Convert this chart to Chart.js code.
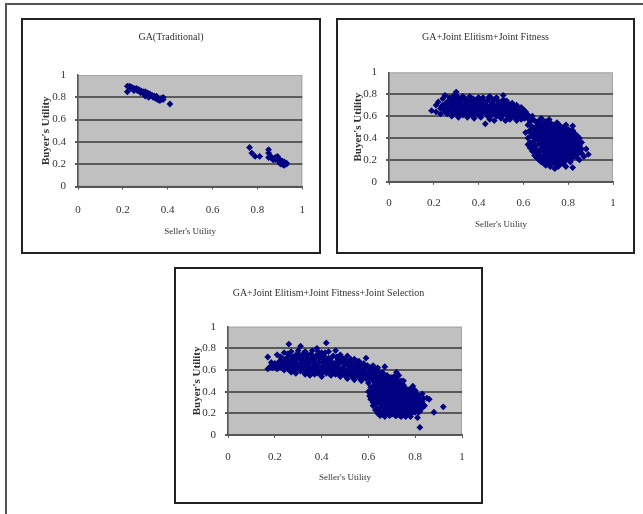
<!DOCTYPE html>
<html>
<head>
<meta charset="utf-8">
<script src="https://cdn.jsdelivr.net/npm/chart.js@4.4.0/dist/chart.umd.min.js"></script>
<style>
  html, body { margin: 0; padding: 0; background: #fff; width: 643px; height: 514px; overflow: hidden; }
  .frame { position: absolute; left: 5px; top: 3px; width: 700px; height: 600px; border-left: 2px solid #555; border-top: 2px solid #555; }
  .box { position: absolute; border: 2px solid #222; box-sizing: border-box; }
  canvas { position: absolute; }
</style>
</head>
<body>
<div class="frame"></div>
<div class="box" style="left:21px; top:18px; width:300px; height:236px;"></div>
<div class="box" style="left:336px; top:18px; width:299px; height:236px;"></div>
<div class="box" style="left:174px; top:267px; width:309px; height:237px;"></div>
<canvas id="chartTraditional" width="296" height="232" style="left:23px; top:20px;"></canvas>
<canvas id="chartFitness" width="295" height="232" style="left:338px; top:20px;"></canvas>
<canvas id="chartSelection" width="305" height="233" style="left:176px; top:269px;"></canvas>
<script>
// axis ticks shared by all three plots
const tickValues = [0, 0.2, 0.4, 0.6, 0.8, 1];
const tickLabels = ['0', '0.2', '0.4', '0.6', '0.8', '1'];

const chartTitles = [
    'GA(Traditional)',
    'GA+Joint Elitism+Joint Fitness',
    'GA+Joint Elitism+Joint Fitness+Joint Selection'
];
const xAxisTitle = "Seller's Utility";
const yAxisTitle = "Buyer's Utility";

// [seller utility, buyer utility] pairs
const traditionalPoints = [
    [0.22,0.85],[0.22,0.90],[0.23,0.90],[0.24,0.89],[0.25,0.88],[0.25,0.86],[0.26,0.88],[0.27,0.87],
    [0.27,0.86],[0.28,0.86],[0.28,0.84],[0.29,0.85],[0.30,0.85],[0.30,0.81],[0.31,0.84],[0.31,0.82],
    [0.32,0.83],[0.32,0.81],[0.33,0.82],[0.34,0.81],[0.35,0.80],[0.35,0.81],[0.36,0.79],[0.36,0.78],
    [0.37,0.79],[0.37,0.78],[0.38,0.80],[0.38,0.78],[0.41,0.74],
    [0.235,0.88],[0.245,0.87],[0.265,0.86],[0.295,0.83],[0.315,0.80],[0.335,0.80],[0.345,0.79],
    [0.355,0.78],[0.365,0.77],[0.375,0.79],
    [0.765,0.35],[0.775,0.30],[0.79,0.27],[0.81,0.27],[0.85,0.33],[0.85,0.30],[0.85,0.26],[0.86,0.27],
    [0.87,0.25],[0.88,0.26],[0.88,0.24],[0.89,0.27],[0.89,0.25],[0.90,0.24],[0.90,0.22],[0.91,0.23],
    [0.91,0.21],[0.92,0.20],[0.92,0.22],[0.93,0.20],[0.93,0.21],[0.92,0.19],[0.90,0.21],[0.87,0.24],
    [0.895,0.23],[0.905,0.20],[0.915,0.195],[0.925,0.21],[0.88,0.255],[0.86,0.26]
];

const fitnessUpper = [
    [0.19,0.65],[0.21,0.64],[0.21,0.70],[0.22,0.73],[0.23,0.62],[0.23,0.67],[0.24,0.76],[0.24,0.70],
    [0.25,0.64],[0.25,0.79],[0.26,0.68],[0.26,0.73],[0.26,0.62],[0.27,0.77],[0.27,0.66],[0.28,0.71],
    [0.28,0.60],[0.28,0.75],[0.29,0.64],[0.29,0.68],[0.29,0.79],[0.30,0.62],[0.30,0.72],[0.30,0.82],
    [0.31,0.66],[0.31,0.76],[0.31,0.59],[0.32,0.70],[0.32,0.63],[0.32,0.74],[0.33,0.67],[0.33,0.78],
    [0.33,0.61],[0.34,0.72],[0.34,0.65],[0.34,0.76],[0.35,0.59],[0.35,0.69],[0.35,0.63],[0.36,0.74],
    [0.36,0.67],[0.36,0.78],[0.37,0.61],[0.37,0.71],[0.37,0.65],[0.38,0.75],[0.38,0.69],[0.38,0.58],
    [0.39,0.63],[0.39,0.73],[0.39,0.67],[0.40,0.77],[0.40,0.61],[0.40,0.70],[0.41,0.65],[0.41,0.74],
    [0.41,0.59],[0.42,0.68],[0.42,0.63],[0.42,0.77],[0.43,0.53],[0.43,0.71],[0.43,0.66],[0.44,0.60],
    [0.44,0.74],[0.44,0.69],[0.45,0.64],[0.45,0.57],[0.45,0.78],[0.46,0.67],[0.46,0.72],[0.46,0.61],
    [0.47,0.75],[0.47,0.65],[0.47,0.56],[0.48,0.70],[0.48,0.60],[0.48,0.77],[0.49,0.63],[0.49,0.68],
    [0.49,0.73],[0.50,0.58],[0.50,0.66],[0.50,0.71],[0.51,0.79],[0.51,0.61],[0.51,0.75],[0.52,0.64],
    [0.52,0.69],[0.52,0.56],[0.53,0.72],[0.53,0.60],[0.53,0.67],[0.54,0.63],[0.54,0.70],[0.54,0.57],
    [0.55,0.66],[0.55,0.61],[0.55,0.72],[0.56,0.59],[0.56,0.68],[0.56,0.64],[0.57,0.62],[0.57,0.70],
    [0.57,0.56],[0.58,0.66],[0.58,0.60],[0.59,0.64],[0.59,0.68],[0.59,0.57],[0.60,0.62],[0.60,0.66],
    [0.61,0.59],[0.61,0.64],[0.62,0.61],[0.63,0.58],[0.64,0.60]
];

const fitnessUpperFill = [
    [0.235,0.69],[0.245,0.66],[0.255,0.72],[0.265,0.65],[0.275,0.70],[0.285,0.73],[0.285,0.63],[0.295,0.66],
    [0.295,0.75],[0.305,0.69],[0.305,0.78],[0.315,0.63],[0.315,0.72],[0.325,0.67],[0.325,0.77],[0.335,0.64],
    [0.335,0.70],[0.345,0.62],[0.345,0.74],[0.355,0.66],[0.355,0.72],[0.365,0.63],[0.365,0.70],[0.375,0.68],
    [0.375,0.76],[0.385,0.62],[0.385,0.72],[0.395,0.65],[0.395,0.76],[0.405,0.68],[0.405,0.73],[0.415,0.62],
    [0.415,0.71],[0.425,0.65],[0.425,0.74],[0.435,0.62],[0.435,0.69],[0.445,0.66],[0.445,0.77],[0.455,0.62],
    [0.455,0.70],[0.465,0.64],[0.465,0.75],[0.475,0.62],[0.475,0.69],[0.485,0.66],[0.485,0.74],[0.495,0.60],
    [0.495,0.70],[0.505,0.64],[0.505,0.68],[0.515,0.66],[0.515,0.72],[0.525,0.61],[0.525,0.74],[0.535,0.58],
    [0.535,0.65],[0.545,0.60],[0.545,0.67],[0.555,0.63],[0.555,0.69],[0.565,0.61],[0.565,0.66],[0.575,0.59],
    [0.575,0.65],[0.585,0.63],[0.595,0.60],[0.605,0.58],[0.615,0.62],[0.625,0.57]
];

const fitnessLower = [
    [0.61,0.45],[0.62,0.40],[0.62,0.52],[0.63,0.36],[0.63,0.47],[0.63,0.55],[0.64,0.42],[0.64,0.50],
    [0.64,0.33],[0.65,0.45],[0.65,0.38],[0.65,0.56],[0.66,0.29],[0.66,0.41],[0.66,0.51],[0.66,0.47],
    [0.67,0.35],[0.67,0.44],[0.67,0.54],[0.67,0.25],[0.68,0.39],[0.68,0.31],[0.68,0.48],[0.68,0.58],
    [0.69,0.21],[0.69,0.36],[0.69,0.43],[0.69,0.52],[0.69,0.28],[0.70,0.33],[0.70,0.40],[0.70,0.47],
    [0.70,0.55],[0.70,0.24],[0.71,0.19],[0.71,0.30],[0.71,0.37],[0.71,0.44],[0.71,0.50],[0.72,0.27],
    [0.72,0.34],[0.72,0.41],[0.72,0.48],[0.72,0.22],[0.72,0.54],[0.73,0.17],[0.73,0.31],[0.73,0.38],
    [0.73,0.45],[0.73,0.25],[0.74,0.12],[0.74,0.21],[0.74,0.28],[0.74,0.35],[0.74,0.42],[0.74,0.50],
    [0.75,0.18],[0.75,0.32],[0.75,0.39],[0.75,0.46],[0.75,0.25],[0.76,0.15],[0.76,0.22],[0.76,0.29],
    [0.76,0.36],[0.76,0.43],[0.77,0.19],[0.77,0.26],[0.77,0.33],[0.77,0.40],[0.77,0.48],[0.78,0.23],
    [0.78,0.30],[0.78,0.37],[0.78,0.44],[0.78,0.16],[0.79,0.14],[0.79,0.27],[0.79,0.34],[0.79,0.41],
    [0.79,0.20],[0.80,0.24],[0.80,0.31],[0.80,0.38],[0.80,0.45],[0.81,0.18],[0.81,0.28],[0.81,0.35],
    [0.81,0.42],[0.82,0.13],[0.82,0.22],[0.82,0.32],[0.82,0.38],[0.82,0.51],[0.83,0.26],[0.83,0.35],
    [0.83,0.40],[0.84,0.30],[0.84,0.22],[0.84,0.38],[0.85,0.33],[0.85,0.20],[0.86,0.26],[0.88,0.30],
    [0.89,0.25],[0.87,0.23]
];

const fitnessLowerFill = [
    [0.625,0.46],[0.635,0.42],[0.635,0.51],[0.645,0.37],[0.645,0.46],[0.655,0.33],[0.655,0.42],[0.655,0.50],
    [0.665,0.38],[0.665,0.44],[0.665,0.54],[0.675,0.28],[0.675,0.41],[0.675,0.49],[0.685,0.35],[0.685,0.44],
    [0.685,0.52],[0.695,0.25],[0.695,0.32],[0.695,0.40],[0.695,0.48],[0.705,0.21],[0.705,0.28],[0.705,0.36],
    [0.705,0.44],[0.705,0.51],[0.715,0.25],[0.715,0.33],[0.715,0.40],[0.715,0.47],[0.715,0.53],[0.725,0.19],
    [0.725,0.29],[0.725,0.37],[0.725,0.44],[0.725,0.51],[0.735,0.22],[0.735,0.28],[0.735,0.35],[0.735,0.42],
    [0.735,0.48],[0.745,0.16],[0.745,0.24],[0.745,0.31],[0.745,0.38],[0.745,0.46],[0.755,0.21],[0.755,0.28],
    [0.755,0.35],[0.755,0.43],[0.755,0.49],[0.765,0.18],[0.765,0.26],[0.765,0.33],[0.765,0.40],[0.765,0.46],
    [0.775,0.22],[0.775,0.30],[0.775,0.37],[0.775,0.43],[0.785,0.19],[0.785,0.26],[0.785,0.33],[0.785,0.40],
    [0.785,0.47],[0.795,0.23],[0.795,0.30],[0.795,0.37],[0.795,0.43],[0.805,0.20],[0.805,0.27],[0.805,0.34],
    [0.805,0.40],[0.815,0.25],[0.815,0.31],[0.815,0.38],[0.825,0.28],[0.825,0.42],[0.835,0.30],[0.845,0.34],
    [0.635,0.57],[0.655,0.55],[0.675,0.57],[0.695,0.55],[0.715,0.57],[0.735,0.52],[0.685,0.23],[0.705,0.17],
    [0.755,0.14],[0.715,0.19],
    [0.64,0.28],[0.65,0.24],[0.66,0.22],[0.67,0.20],[0.68,0.18],[0.645,0.30],[0.655,0.27],[0.665,0.25],
    [0.675,0.22],[0.685,0.20],[0.69,0.17],[0.63,0.31],[0.62,0.34],[0.70,0.15],[0.72,0.14],[0.78,0.50],
    [0.80,0.48],[0.81,0.46],[0.83,0.44],[0.84,0.42],[0.79,0.52],[0.76,0.52],[0.75,0.54],[0.82,0.47],
    [0.85,0.40],[0.86,0.36],[0.86,0.30],[0.85,0.28],[0.84,0.25]
];

const selectionUpper = [
    [0.17,0.61],[0.17,0.72],[0.18,0.63],[0.19,0.62],[0.20,0.66],[0.21,0.74],[0.21,0.61],[0.22,0.68],
    [0.23,0.64],[0.23,0.71],[0.24,0.60],[0.24,0.76],[0.25,0.66],[0.25,0.70],[0.26,0.63],[0.26,0.84],
    [0.26,0.73],[0.27,0.58],[0.27,0.67],[0.27,0.77],[0.28,0.61],[0.28,0.70],[0.28,0.64],[0.29,0.74],
    [0.29,0.57],[0.29,0.67],[0.30,0.62],[0.30,0.71],[0.30,0.78],[0.31,0.59],[0.31,0.66],[0.31,0.82],
    [0.32,0.63],[0.32,0.73],[0.32,0.69],[0.33,0.56],[0.33,0.66],[0.33,0.77],[0.34,0.60],[0.34,0.70],
    [0.34,0.74],[0.35,0.63],[0.35,0.67],[0.35,0.55],[0.36,0.72],[0.36,0.59],[0.36,0.78],[0.37,0.65],
    [0.37,0.69],[0.37,0.56],[0.38,0.62],[0.38,0.74],[0.38,0.80],[0.39,0.58],[0.39,0.67],[0.39,0.71],
    [0.40,0.61],[0.40,0.76],[0.40,0.54],[0.41,0.64],[0.41,0.69],[0.41,0.73],[0.42,0.57],[0.42,0.85],
    [0.42,0.66],[0.43,0.61],[0.43,0.71],[0.43,0.77],[0.44,0.55],[0.44,0.64],[0.44,0.68],[0.45,0.59],
    [0.45,0.73],[0.45,0.62],[0.46,0.56],[0.46,0.66],[0.46,0.78],[0.47,0.60],[0.47,0.70],[0.47,0.64],
    [0.48,0.54],[0.48,0.67],[0.48,0.74],[0.49,0.58],[0.49,0.62],[0.49,0.71],[0.50,0.55],[0.50,0.65],
    [0.50,0.69],[0.51,0.60],[0.51,0.73],[0.51,0.52],[0.52,0.63],[0.52,0.57],[0.52,0.68],[0.53,0.54],
    [0.53,0.61],[0.53,0.66],[0.54,0.58],[0.54,0.70],[0.54,0.51],[0.55,0.62],[0.55,0.56],[0.55,0.66],
    [0.56,0.53],[0.56,0.60],[0.56,0.68],[0.57,0.57],[0.57,0.64],[0.57,0.50],[0.58,0.55],[0.58,0.61],
    [0.58,0.66],[0.59,0.52],[0.59,0.58],[0.59,0.71],[0.60,0.48],[0.60,0.56],[0.60,0.63],[0.61,0.53],
    [0.61,0.60],[0.61,0.44],[0.62,0.57],[0.62,0.50],[0.62,0.64],[0.63,0.54],[0.63,0.47],[0.63,0.59],
    [0.64,0.51],[0.64,0.62],[0.64,0.44],[0.65,0.55],[0.66,0.58],[0.67,0.50],[0.67,0.63],[0.68,0.55],
    [0.69,0.47],[0.70,0.50],[0.71,0.54],[0.72,0.52],[0.73,0.55],[0.74,0.50],[0.75,0.50]
];

const selectionUpperFill = [
    [0.185,0.67],[0.195,0.64],[0.205,0.62],[0.215,0.66],[0.225,0.63],[0.225,0.72],[0.235,0.67],[0.245,0.64],
    [0.245,0.70],[0.255,0.61],[0.255,0.75],[0.265,0.68],[0.265,0.60],[0.275,0.64],[0.275,0.72],[0.285,0.67],
    [0.285,0.58],[0.295,0.62],[0.295,0.71],[0.305,0.65],[0.305,0.74],[0.315,0.61],[0.315,0.69],[0.325,0.58],
    [0.325,0.66],[0.325,0.76],[0.335,0.63],[0.335,0.72],[0.345,0.58],[0.345,0.67],[0.355,0.70],[0.355,0.75],
    [0.365,0.62],[0.365,0.67],[0.375,0.60],[0.375,0.72],[0.385,0.57],[0.385,0.66],[0.385,0.77],[0.395,0.62],
    [0.395,0.74],[0.405,0.58],[0.405,0.67],[0.405,0.71],[0.415,0.61],[0.415,0.76],[0.425,0.63],[0.425,0.69],
    [0.435,0.58],[0.435,0.66],[0.445,0.61],[0.445,0.72],[0.455,0.57],[0.455,0.66],[0.465,0.62],[0.465,0.72],
    [0.475,0.57],[0.475,0.67],[0.485,0.60],[0.485,0.70],[0.495,0.56],[0.495,0.66],[0.505,0.59],[0.505,0.68],
    [0.515,0.56],[0.515,0.64],[0.525,0.60],[0.525,0.70],[0.535,0.57],[0.535,0.64],[0.545,0.55],[0.545,0.62],
    [0.555,0.59],[0.555,0.68],[0.565,0.56],[0.565,0.64],[0.575,0.53],[0.575,0.60],[0.585,0.58],[0.585,0.63],
    [0.595,0.55],[0.595,0.64],[0.605,0.52],[0.605,0.59],[0.615,0.56],[0.615,0.63],[0.625,0.53],[0.625,0.60],
    [0.635,0.50],[0.635,0.57],[0.645,0.48],[0.645,0.58],[0.655,0.52],[0.665,0.55],[0.675,0.52],[0.685,0.50],
    [0.695,0.53],[0.705,0.48],[0.725,0.48],[0.745,0.47],[0.655,0.45],[0.665,0.46]
];

const selectionLower = [
    [0.60,0.40],[0.61,0.37],[0.62,0.42],[0.62,0.33],[0.63,0.38],[0.63,0.28],[0.64,0.35],[0.64,0.40],
    [0.64,0.24],[0.65,0.31],[0.65,0.46],[0.65,0.21],[0.65,0.38],[0.66,0.27],[0.66,0.34],[0.66,0.42],
    [0.66,0.49],[0.66,0.19],[0.67,0.23],[0.67,0.30],[0.67,0.37],[0.67,0.45],[0.67,0.17],[0.67,0.55],
    [0.68,0.26],[0.68,0.33],[0.68,0.40],[0.68,0.48],[0.68,0.20],[0.69,0.18],[0.69,0.29],[0.69,0.36],
    [0.69,0.43],[0.69,0.51],[0.69,0.23],[0.70,0.25],[0.70,0.32],[0.70,0.39],[0.70,0.46],[0.70,0.19],
    [0.70,0.53],[0.71,0.21],[0.71,0.28],[0.71,0.35],[0.71,0.42],[0.71,0.49],[0.72,0.18],[0.72,0.24],
    [0.72,0.31],[0.72,0.38],[0.72,0.45],[0.72,0.58],[0.73,0.21],[0.73,0.27],[0.73,0.34],[0.73,0.41],
    [0.73,0.48],[0.74,0.17],[0.74,0.24],[0.74,0.30],[0.74,0.37],[0.74,0.44],[0.75,0.20],[0.75,0.27],
    [0.75,0.33],[0.75,0.40],[0.75,0.46],[0.76,0.17],[0.76,0.23],[0.76,0.30],[0.76,0.36],[0.76,0.43],
    [0.77,0.20],[0.77,0.26],[0.77,0.33],[0.77,0.39],[0.78,0.22],[0.78,0.29],[0.78,0.36],[0.78,0.42],
    [0.78,0.17],[0.79,0.25],[0.79,0.32],[0.79,0.38],[0.79,0.45],[0.80,0.21],[0.80,0.28],[0.80,0.35],
    [0.80,0.41],[0.81,0.24],[0.81,0.31],[0.81,0.16],[0.81,0.37],[0.82,0.22],[0.82,0.28],[0.82,0.34],
    [0.82,0.07],[0.83,0.25],[0.83,0.31],[0.83,0.38],[0.84,0.27],[0.85,0.34],[0.86,0.33],[0.88,0.21],
    [0.92,0.26]
];

const selectionLowerFill = [
    [0.615,0.40],[0.625,0.37],[0.625,0.46],[0.635,0.33],[0.635,0.42],[0.645,0.30],[0.645,0.38],[0.645,0.45],
    [0.655,0.26],[0.655,0.35],[0.655,0.42],[0.665,0.22],[0.665,0.31],[0.665,0.38],[0.675,0.20],[0.675,0.27],
    [0.675,0.34],[0.675,0.41],[0.685,0.23],[0.685,0.30],[0.685,0.37],[0.685,0.44],[0.695,0.20],[0.695,0.26],
    [0.695,0.33],[0.695,0.40],[0.695,0.47],[0.705,0.22],[0.705,0.29],[0.705,0.36],[0.705,0.43],[0.715,0.18],
    [0.715,0.25],[0.715,0.32],[0.715,0.38],[0.715,0.45],[0.725,0.21],[0.725,0.28],[0.725,0.35],[0.725,0.42],
    [0.735,0.18],[0.735,0.24],[0.735,0.31],[0.735,0.38],[0.735,0.44],[0.745,0.21],[0.745,0.27],[0.745,0.34],
    [0.745,0.40],[0.755,0.18],[0.755,0.24],[0.755,0.30],[0.755,0.37],[0.755,0.43],[0.765,0.20],[0.765,0.27],
    [0.765,0.33],[0.765,0.40],[0.775,0.23],[0.775,0.30],[0.775,0.36],[0.775,0.42],[0.785,0.20],[0.785,0.26],
    [0.785,0.33],[0.785,0.39],[0.795,0.22],[0.795,0.29],[0.795,0.35],[0.795,0.41],[0.805,0.25],[0.805,0.31],
    [0.805,0.38],[0.815,0.21],[0.815,0.28],[0.815,0.34],[0.825,0.26],[0.825,0.31],[0.835,0.28],[0.835,0.34],
    [0.62,0.27],[0.63,0.23],[0.64,0.20],[0.65,0.18],[0.62,0.30],[0.61,0.33],[0.605,0.36]
];

// grey Excel-style plot area
const plotBackground = {
    id: 'plotBackground',
    beforeDraw(chart) {
        const { ctx, chartArea: a } = chart;
        ctx.save();
        ctx.fillStyle = '#c0c0c0';
        ctx.fillRect(a.left, a.top, a.width, a.height);
        ctx.strokeStyle = '#a4a4a4';
        ctx.lineWidth = 1;
        ctx.strokeRect(a.left + 0.5, a.top + 0.5, a.width - 1, a.height - 1);
        ctx.restore();
    }
};

const textColor = '#333';
const serif = "'Liberation Serif', 'DejaVu Serif', serif";

function drawScatter(canvasId, titleText, points, fit) {
    new Chart(document.getElementById(canvasId), {
        type: 'scatter',
        data: {
            datasets: [{
                data: points.map(([x, y]) => ({ x, y })),
                pointStyle: 'rectRot',
                pointRadius: 3.4,
                backgroundColor: '#000080',
                borderColor: '#000080',
                borderWidth: 0
            }]
        },
        options: {
            responsive: false,
            animation: false,
            events: [],
            plugins: {
                legend: { display: false },
                tooltip: { enabled: false },
                title: {
                    display: true,
                    text: titleText,
                    color: textColor,
                    font: { family: serif, size: 10, weight: 'normal', lineHeight: 1.2 },
                    padding: { top: fit.titleTop, bottom: fit.titleBottom }
                }
            },
            scales: {
                x: {
                    type: 'linear',
                    min: 0,
                    max: 1,
                    afterBuildTicks: s => { s.ticks = tickValues.map(v => ({ value: v })); },
                    afterFit: s => { s.height = fit.xHeight; },
                    ticks: {
                        callback: (v, i) => tickLabels[i],
                        color: textColor,
                        font: { family: serif, size: 11, lineHeight: 1.2 },
                        padding: fit.xTickPad,
                        maxRotation: 0
                    },
                    grid: { drawOnChartArea: false, drawTicks: true, tickLength: 3, color: '#555' },
                    border: { color: '#555', width: 1.5 },
                    title: {
                        display: true,
                        text: xAxisTitle,
                        color: textColor,
                        font: { family: serif, size: 9, lineHeight: 1.2 },
                        padding: { top: 0, bottom: fit.xTitlePad }
                    }
                },
                y: {
                    type: 'linear',
                    min: 0,
                    max: 1,
                    afterBuildTicks: s => { s.ticks = tickValues.map(v => ({ value: v })); },
                    afterFit: s => { s.width = fit.yWidth; },
                    ticks: {
                        callback: (v, i) => tickLabels[i],
                        color: textColor,
                        font: { family: serif, size: 11, lineHeight: 1.2 },
                        padding: 9
                    },
                    grid: {
                        drawTicks: true,
                        tickLength: 3,
                        color: c => (c.tick && c.tick.value === 1 ? 'rgba(0,0,0,0)' : '#5a5a5a'),
                        lineWidth: 2
                    },
                    border: { color: '#555', width: 1.5 },
                    title: {
                        display: true,
                        text: yAxisTitle,
                        color: textColor,
                        font: { family: serif, size: 11, weight: 'bold', lineHeight: 1.2 },
                        padding: { top: fit.yTitlePad, bottom: 0 }
                    }
                },
                // empty right-hand axis, only holds the gap so the title stays centred on the box
                gap: {
                    type: 'linear',
                    position: 'right',
                    grid: { display: false },
                    ticks: { display: false },
                    border: { display: false },
                    afterFit: s => { s.width = fit.right; }
                }
            }
        },
        plugins: [plotBackground]
    });
}

drawScatter('chartTraditional', chartTitles[0], traditionalPoints,
    { right: 16, titleTop: 11.5, titleBottom: 31.5, yWidth: 55, yTitlePad: 17, xHeight: 65.5, xTickPad: 14, xTitlePad: 14.5 });
drawScatter('chartFitness', chartTitles[1], fitnessUpper.concat(fitnessUpperFill, fitnessLower, fitnessLowerFill),
    { right: 20, titleTop: 11.5, titleBottom: 28.9, yWidth: 51, yTitlePad: 14, xHeight: 70.2, xTickPad: 11.6, xTitlePad: 21.5 });
drawScatter('chartSelection', chartTitles[2], selectionUpper.concat(selectionUpperFill, selectionLower, selectionLowerFill),
    { right: 19, titleTop: 18, titleBottom: 27.7, yWidth: 52, yTitlePad: 15, xHeight: 67, xTickPad: 12.4, xTitlePad: 18.5 });
</script>
</body>
</html>
